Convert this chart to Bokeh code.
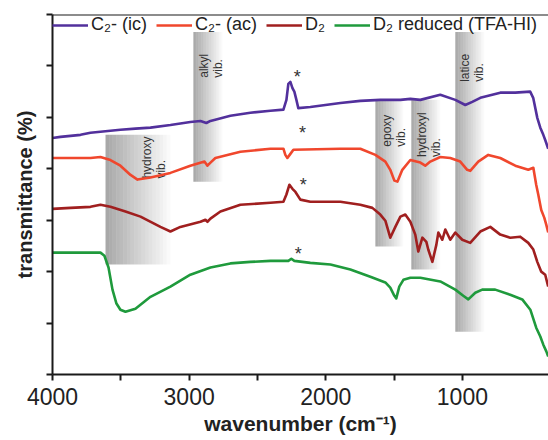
import numpy as np
from bokeh.plotting import figure
from bokeh.models import Range1d, Legend, LegendItem, Span, FixedTicker, ColumnDataSource, Title
from bokeh.core.properties import value
from bokeh.embed import file_html
from bokeh.resources import INLINE

# ---- data ----
purple_wn = [4000, 3942, 3868, 3795, 3722, 3649, 3576, 3503, 3393, 3283,
             3137, 2991, 2917, 2874, 2844, 2698, 2552, 2405, 2310, 2288,
             2274, 2259, 2244, 2230, 2215, 2201, 2113, 1893, 1747, 1601,
             1528, 1454, 1381, 1308, 1162, 1052, 979, 928, 869, 723,
             613, 504, 482, 452, 430, 408, 394, 372]
purple_t = [4.60, 4.62, 4.64, 4.66, 4.70, 4.72, 4.74, 4.76, 4.78, 4.80,
            4.85, 4.91, 4.93, 4.89, 4.93, 5.03, 5.09, 5.13, 5.15, 5.34,
            5.65, 5.69, 5.57, 5.50, 5.34, 5.18, 5.20, 5.28, 5.32, 5.34,
            5.34, 5.34, 5.36, 5.34, 5.44, 5.34, 5.24, 5.30, 5.38, 5.48,
            5.48, 5.50, 5.38, 4.99, 4.80, 4.66, 4.56, 4.39]

red_wn = [4000, 3868, 3722, 3649, 3576, 3503, 3429, 3378, 3283, 3137,
          2991, 2888, 2866, 2844, 2808, 2625, 2405, 2310, 2296, 2281,
          2259, 2237, 1893, 1747, 1637, 1564, 1528, 1498, 1476, 1440,
          1381, 1308, 1272, 1235, 1162, 1089, 1016, 965, 943, 884,
          811, 723, 613, 518, 481, 460, 445, 423, 401, 386, 372]
red_t = [4.21, 4.21, 4.21, 4.23, 4.17, 4.06, 3.88, 3.79, 3.83, 3.92,
         4.06, 4.14, 4.06, 4.12, 4.21, 4.33, 4.39, 4.39, 4.27, 4.21,
         4.29, 4.37, 4.39, 4.39, 4.27, 4.14, 3.98, 3.77, 3.75, 3.98,
         4.17, 4.12, 4.06, 4.14, 4.23, 4.21, 4.14, 3.98, 3.96, 4.14,
         4.27, 4.21, 4.06, 3.98, 4.02, 3.69, 3.50, 3.20, 3.05, 2.91, 2.76]

dred_wn = [4000, 3868, 3722, 3649, 3576, 3466, 3356, 3210, 3137, 3064,
           2917, 2881, 2866, 2844, 2771, 2625, 2405, 2310, 2288, 2266,
           2244, 2222, 2186, 2113, 1893, 1747, 1659, 1601, 1564, 1528,
           1491, 1454, 1418, 1381, 1345, 1323, 1293, 1264, 1250, 1220,
           1191, 1176, 1147, 1125, 1089, 1052, 1001, 943, 869, 796,
           723, 650, 577, 518, 481, 452, 423, 394, 372]
dred_t = [3.22, 3.24, 3.26, 3.30, 3.26, 3.17, 3.07, 2.87, 2.78, 2.87,
          2.97, 3.01, 2.97, 3.03, 3.17, 3.30, 3.34, 3.36, 3.50, 3.69,
          3.61, 3.55, 3.40, 3.36, 3.36, 3.30, 3.24, 3.11, 2.99, 2.66,
          2.87, 3.07, 3.11, 2.97, 2.72, 2.39, 2.66, 2.58, 2.43, 2.19,
          2.52, 2.76, 2.62, 2.82, 2.62, 2.76, 2.62, 2.56, 2.78, 2.87,
          2.72, 2.66, 2.68, 2.56, 2.43, 2.19, 2.00, 1.94, 1.71]

green_wn = [4000, 3868, 3722, 3649, 3620, 3590, 3561, 3532, 3503, 3466,
            3393, 3283, 3137, 2991, 2844, 2698, 2552, 2405, 2274, 2252,
            2230, 2113, 1966, 1820, 1674, 1564, 1528, 1498, 1484, 1462,
            1432, 1381, 1308, 1162, 1052, 994, 957, 906, 855, 760,
            650, 562, 503, 460, 430, 408, 386, 372]
green_t = [2.37, 2.37, 2.37, 2.37, 2.31, 2.08, 1.65, 1.38, 1.26, 1.22,
           1.28, 1.51, 1.71, 1.94, 2.08, 2.16, 2.19, 2.21, 2.21, 2.25,
           2.21, 2.17, 2.14, 2.04, 1.90, 1.79, 1.69, 1.53, 1.48, 1.71,
           1.84, 1.88, 1.88, 1.81, 1.65, 1.53, 1.46, 1.59, 1.65, 1.65,
           1.55, 1.46, 1.26, 0.91, 0.74, 0.58, 0.45, 0.35]

series_names = ["C\u2082- (ic)", "C\u2082- (ac)", "D\u2082", "D\u2082 reduced (TFA-HI)"]
series_colors = ["#52309c", "#f0472d", "#a01f1f", "#1f9a3c"]

band_labels = ["hydroxy\nvib.", "alkyl\nvib.", "epoxy\nvib.", "hydroxyl\nvib.", "latice\nvib."]
band_hi = [3612, 2969, 1637, 1374, 1052]
band_lo = [3137, 2756, 1432, 1162, 840]
band_top = [4.66, 6.66, 5.34, 5.34, 6.66]
band_bottom = [2.14, 3.75, 2.49, 2.04, 0.83]
label_wn = [3356, 2939, 1601, 1345, 1030]
label_t = [3.81, 5.77, 4.43, 4.23, 5.69]

star_wn = [2208, 2171, 2164, 2201]
star_t = [5.79, 4.70, 3.69, 2.35]

x_ticks = [4000, 3000, 2000, 1000]
x_minor = [3500, 2500, 1500]
y_ticks = [0, 1, 2, 3, 4, 5, 6, 7]

x_title = "wavenumber (cm\u207b\u00b9)"
y_title = "transmittance (%)"

FONT = "Liberation Sans"

p = figure(width=548, height=440, output_backend="svg", toolbar_location=None,
           x_range=Range1d(4000, 370), y_range=Range1d(0, 7),
           min_border_left=52, min_border_right=0, min_border_top=14, min_border_bottom=66)
p.outline_line_color = None
p.grid.visible = False
p.background_fill_color = "white"

# gradient bands
n = 18
for hi, lo, top, bot in zip(band_hi, band_lo, band_top, band_bottom):
    edges = np.linspace(hi, lo, n + 1)
    alphas = np.linspace(0.34, 0.02, n)
    src = ColumnDataSource(dict(left=edges[:-1], right=edges[1:],
                                top=[top] * n, bottom=[bot] * n, a=alphas))
    p.quad(left="left", right="right", top="top", bottom="bottom", source=src,
           fill_color="black", fill_alpha="a", line_color=None)

p.text(x=label_wn, y=label_t, text=band_labels, angle=np.pi / 2,
       text_align="left", text_baseline="top", text_font=value(FONT),
       text_font_size="12px", text_color="#333333", text_line_height=0.95)

renderers = []
for xs, ys, c in zip([purple_wn, red_wn, dred_wn, green_wn],
                     [purple_t, red_t, dred_t, green_t], series_colors):
    r = p.line(xs, ys, line_color=c, line_width=2.6, line_join="round")
    renderers.append(r)

p.text(x=star_wn, y=star_t, text=["*"] * len(star_wn), text_align="center",
       text_baseline="middle", text_font=value(FONT), text_font_size="18px",
       text_color="#333333")

# top frame line
p.add_layout(Span(location=7, dimension="width", line_color="#1a1a1a", line_width=2))

legend = Legend(items=[LegendItem(label=n_, renderers=[r]) for n_, r in zip(series_names, renderers)],
                orientation="horizontal", location="top_left",
                label_text_font=FONT, label_text_font_size="18px", label_text_color="#222222",
                glyph_width=36, label_standoff=3, spacing=9, padding=3, margin=0,
                border_line_color=None, background_fill_alpha=0)
p.add_layout(legend)

# axes
for ax in (p.xaxis[0], p.yaxis[0]):
    ax.axis_line_width = 2
    ax.axis_line_color = "#1a1a1a"
    ax.major_tick_line_width = 2
    ax.major_tick_line_color = "#1a1a1a"
    ax.major_tick_in = 0
    ax.major_tick_out = 6
    ax.axis_label_text_font = FONT
    ax.axis_label_text_font_style = "bold"
    ax.axis_label_text_font_size = "20px"
    ax.axis_label_text_color = "#222222"

p.xaxis.ticker = FixedTicker(ticks=x_ticks, minor_ticks=x_minor)
p.xaxis.minor_tick_line_width = 2
p.xaxis.minor_tick_line_color = "#1a1a1a"
p.xaxis.minor_tick_in = 0
p.xaxis.minor_tick_out = 6
p.xaxis.major_label_text_font = FONT
p.xaxis.major_label_text_font_size = "23px"
p.xaxis.major_label_text_color = "#222222"
p.xaxis.major_label_standoff = 7

# x-axis title as a title placed below the axis
p.add_layout(Title(text=x_title, align="center", text_font=FONT, text_font_style="bold",
                   text_font_size="21px", text_color="#222222", standoff=5, offset=0), "below")

p.yaxis.ticker = FixedTicker(ticks=y_ticks)
p.yaxis.minor_tick_line_color = None
p.yaxis.major_label_text_font_size = "0px"
p.yaxis.major_label_text_color = None
p.yaxis.major_label_standoff = 0
p.yaxis.axis_label = y_title
p.yaxis.axis_label_standoff = 11

open("out.html", "w").write(file_html(p, INLINE))
